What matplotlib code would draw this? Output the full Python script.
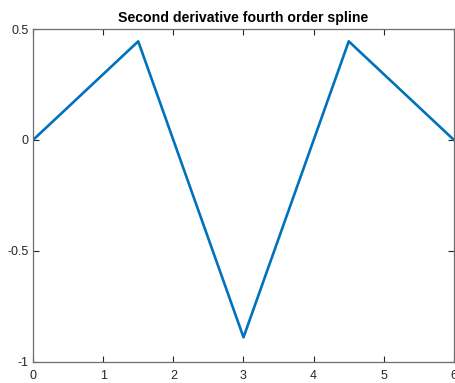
import numpy as np
import matplotlib.pyplot as plt

# knots and second derivative values of the quartic B-spline
x = [0, 1.5, 3, 4.5, 6]
y = [0, 4/9, -8/9, 4/9, 0]

xticks = [0, 1, 2, 3, 4, 5, 6]
yticks = [-1, -0.5, 0, 0.5]
yticklabels = ['-1', '-0.5', '0', '0.5']

plt.rcParams['font.family'] = ['Liberation Sans', 'DejaVu Sans']

fig = plt.figure(figsize=(4.56, 3.83), dpi=100)
ax = fig.add_axes([33/456, 1 - 362/383, 421/456, 333/383])

ax.plot(x, y, color='#0072BD', linewidth=1.9)

ax.set_xlim(0, 6)
ax.set_ylim(-1, 0.5)
ax.set_xticks(xticks)
ax.set_xticklabels([str(t) for t in xticks])
ax.set_yticks(yticks)
ax.set_yticklabels(yticklabels)

ax.tick_params(direction='in', length=4, width=0.8, colors='#262626',
               labelsize=9, top=True, right=True, pad=3)
ax.tick_params(axis='x', pad=6)
for s in ax.spines.values():
    s.set_color('#6e6e6e')
    s.set_linewidth(0.9)

ax.set_title('Second derivative fourth order spline', fontsize=10.2,
             fontweight='bold', pad=5)

fig.savefig('out.png', dpi=100)
